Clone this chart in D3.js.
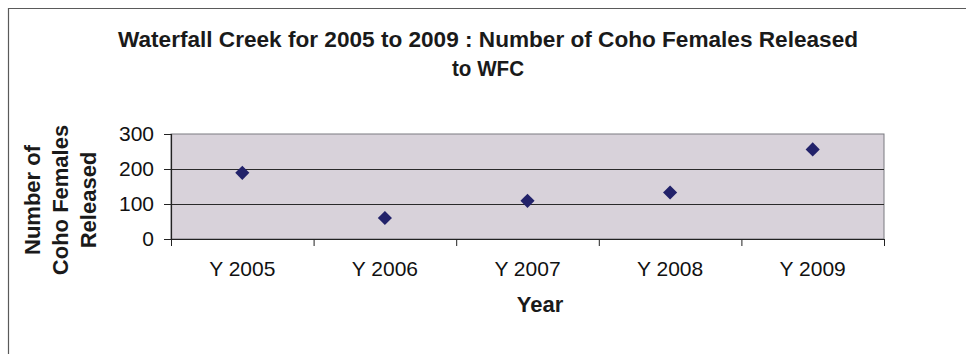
<!DOCTYPE html>
<html>
<head>
<meta charset="utf-8">
<script src="https://cdn.jsdelivr.net/npm/d3@7"></script>
<style>
  html, body { margin: 0; padding: 0; background: #ffffff; }
  svg { display: block; font-family: "Liberation Sans", Arial, sans-serif; }
</style>
</head>
<body>
<svg id="chart" width="966" height="354"></svg>
<script>
// Coho females released to Waterfall Creek, by year
const categories = ["Y 2005", "Y 2006", "Y 2007", "Y 2008", "Y 2009"];
const released = [189, 60, 109, 133, 256];
const yTicks = [0, 100, 200, 300];
const titleLines = ["Waterfall Creek for 2005 to 2009 : Number of Coho Females Released", "to WFC"];
const yTitleLines = ["Number of", "Coho Females", "Released"];
const xTitle = "Year";

const svg = d3.select("#chart");
const plot = { left: 171, right: 884, top: 134, bottom: 239 };

const x = d3.scaleBand().domain(categories).range([plot.left, plot.right]);
const y = d3.scaleLinear().domain([0, 300]).range([plot.bottom, plot.top]);

// outer chart frame (top and left edges)
svg.append("path")
  .attr("d", "M8.5,354 L8.5,8.5 L966,8.5")
  .attr("fill", "none").attr("stroke", "#5a5a5a").attr("stroke-width", 1.2);

// plot area
svg.append("rect")
  .attr("x", plot.left).attr("y", plot.top)
  .attr("width", plot.right - plot.left).attr("height", plot.bottom - plot.top)
  .attr("fill", "#d8d2da").attr("stroke", "#7a7a80").attr("stroke-width", 1);

// horizontal gridlines
svg.append("g").selectAll("line")
  .data(yTicks.filter(t => t > 0 && t < 300))
  .join("line")
  .attr("x1", plot.left).attr("x2", plot.right)
  .attr("y1", d => y(d) + 0.5).attr("y2", d => y(d) + 0.5)
  .attr("stroke", "#2a2a2a").attr("stroke-width", 1.2);

// y axis
const yAxis = svg.append("g")
  .attr("transform", `translate(${plot.left},0)`)
  .call(d3.axisLeft(y).tickValues(yTicks).tickSize(7).tickPadding(10).tickFormat(d3.format("d")));
yAxis.select(".domain").attr("stroke", "#222").attr("stroke-width", 1.2);
yAxis.selectAll(".tick line").attr("stroke", "#222");
yAxis.selectAll("text")
  .attr("font-family", "Liberation Sans, Arial, sans-serif")
  .attr("font-size", 21).attr("fill", "#111");

// x axis with ticks between categories
const xAxis = svg.append("g")
  .attr("transform", `translate(0,${plot.bottom})`)
  .call(d3.axisBottom(x).tickSize(0).tickPadding(22));
xAxis.select(".domain").attr("stroke", "#222").attr("stroke-width", 1.2);
xAxis.selectAll("text")
  .attr("font-family", "Liberation Sans, Arial, sans-serif")
  .attr("font-size", 21).attr("fill", "#111");
const boundaries = categories.map(c => x(c)).concat([plot.right]);
xAxis.append("g").selectAll("line")
  .data(boundaries)
  .join("line")
  .attr("x1", d => d + 0.5).attr("x2", d => d + 0.5)
  .attr("y1", 0).attr("y2", 7)
  .attr("stroke", "#222");

// data markers
const diamond = d3.symbol().type(d3.symbolSquare).size(100);
svg.append("g").selectAll("path")
  .data(released.map((v, i) => ({ cat: categories[i], v })))
  .join("path")
  .attr("d", diamond)
  .attr("transform", d => `translate(${x(d.cat) + x.bandwidth() / 2},${y(d.v)}) rotate(45)`)
  .attr("fill", "#22226a");

// chart title
const title = svg.append("g")
  .attr("font-weight", "bold").attr("fill", "#1a1a1a").attr("text-anchor", "middle");
title.append("text")
  .attr("x", 488).attr("y", 47).attr("font-size", 22)
  .attr("textLength", 740).attr("lengthAdjust", "spacingAndGlyphs")
  .text(titleLines[0]);
title.append("text")
  .attr("x", 488).attr("y", 76).attr("font-size", 22)
  .attr("textLength", 72).attr("lengthAdjust", "spacingAndGlyphs")
  .text(titleLines[1]);

// y axis title
const yt = svg.append("text")
  .attr("transform", "translate(0,200) rotate(-90)")
  .attr("text-anchor", "middle").attr("font-weight", "bold")
  .attr("font-size", 22).attr("fill", "#1a1a1a");
yTitleLines.forEach((line, i) => {
  yt.append("tspan").attr("x", 0).attr("y", 40 + i * 28).text(line);
});

// x axis title
svg.append("text")
  .attr("x", 540).attr("y", 312)
  .attr("text-anchor", "middle").attr("font-weight", "bold")
  .attr("font-size", 22).attr("fill", "#1a1a1a")
  .text(xTitle);
</script>
</body>
</html>
